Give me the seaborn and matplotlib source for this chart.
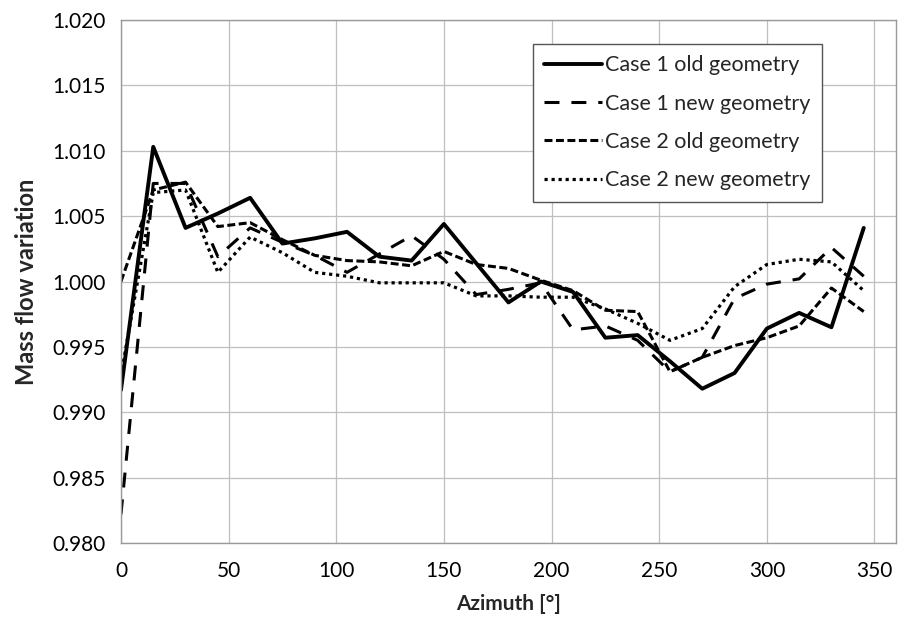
import pandas as pd
import seaborn as sns
import matplotlib.pyplot as plt

# azimuth positions (deg) and mass flow variation for each case
azimuth = [0, 15, 30, 45, 60, 75, 90, 105, 120, 135, 150, 165,
           180, 195, 210, 225, 240, 255, 270, 285, 300, 315, 330, 345]

case1_old = [0.9917, 1.0103, 1.0041, 1.0052, 1.0064, 1.0029, 1.0033, 1.0038,
             1.0019, 1.0016, 1.0044, 1.0014, 0.9984, 1.0000, 0.9992, 0.9957,
             0.9959, 0.9939, 0.9918, 0.9930, 0.9964, 0.9976, 0.9965, 1.0041]
case1_new = [0.9822, 1.0075, 1.0075, 1.0019, 1.0041, 1.0030, 1.0020, 1.0007,
             1.0021, 1.0035, 1.0017, 0.9990, 0.9994, 0.9999, 0.9963, 0.9966,
             0.9955, 0.9931, 0.9942, 0.9987, 0.9998, 1.0002, 1.0026, 1.0004]
case2_old = [1.0000, 1.0070, 1.0076, 1.0042, 1.0045, 1.0032, 1.0020, 1.0016,
             1.0015, 1.0012, 1.0023, 1.0013, 1.0010, 1.0001, 0.9993, 0.9978,
             0.9977, 0.9931, 0.9942, 0.9951, 0.9957, 0.9966, 0.9995, 0.9977]
case2_new = [0.9928, 1.0068, 1.0070, 1.0007, 1.0034, 1.0022, 1.0007, 1.0004,
             0.9999, 0.9999, 0.9999, 0.9989, 0.9989, 0.9988, 0.9988, 0.9979,
             0.9968, 0.9955, 0.9964, 0.9996, 1.0013, 1.0017, 1.0015, 0.9993]

labels = ["Case 1 old geometry", "Case 1 new geometry",
          "Case 2 old geometry", "Case 2 new geometry"]
series = [case1_old, case1_new, case2_old, case2_new]

x_ticks = [0, 50, 100, 150, 200, 250, 300, 350]
y_ticks = [0.980, 0.985, 0.990, 0.995, 1.000, 1.005, 1.010, 1.015, 1.020]

sns.set_style("white")
plt.rcParams['font.family'] = ['Lato', 'DejaVu Sans']

fig = plt.figure(figsize=(8.98, 6.23), dpi=100)
ax = fig.add_axes([0.1347, 0.1284, 0.8631, 0.8395])

# line styles: solid, long dash, medium dash, dotted
styles = [
    dict(linestyle='-', linewidth=2.8),
    dict(linestyle=(0, (4.9, 3.9)), linewidth=2.2),
    dict(linestyle=(0, (2.6, 1.15)), linewidth=2.2),
    dict(linestyle=(0, (1.0, 1.2)), linewidth=2.3),
]

for lab, vals, st in zip(labels, series, styles):
    df = pd.DataFrame({'Azimuth': azimuth, 'Mass flow': vals})
    sns.lineplot(data=df, x='Azimuth', y='Mass flow', ax=ax, color='black',
                 label=lab, **st)

ax.set_xlim(0, 360)
ax.set_ylim(0.980, 1.020)
ax.set_xticks(x_ticks)
ax.set_yticks(y_ticks)
ax.set_yticklabels([f"{v:.3f}" for v in y_ticks])
ax.grid(True, color='#bfbfbf', linewidth=0.9)
ax.set_axisbelow(True)
for s in ax.spines.values():
    s.set_color('#9a9a9a')
    s.set_linewidth(1.0)
ax.tick_params(axis='both', direction='out', length=6, width=0.9,
               color='#9a9a9a', labelsize=15, labelcolor='black')
ax.tick_params(axis='x', pad=7)
ax.tick_params(axis='y', pad=5)

ax.set_xlabel("Azimuth [°]", fontsize=15, fontweight='bold', labelpad=9)
ax.set_ylabel("Mass flow variation", fontsize=17, fontweight='bold', labelpad=10)

leg = ax.legend(loc='upper left', bbox_to_anchor=(0.531, 0.955), borderaxespad=0,
                fontsize=15.5, handlelength=2.7, handletextpad=0.1,
                labelspacing=0.85, borderpad=0.55, fancybox=False,
                framealpha=1, edgecolor='#555555')
leg.get_frame().set_linewidth(1.0)

fig.savefig("out.png", dpi=100)
